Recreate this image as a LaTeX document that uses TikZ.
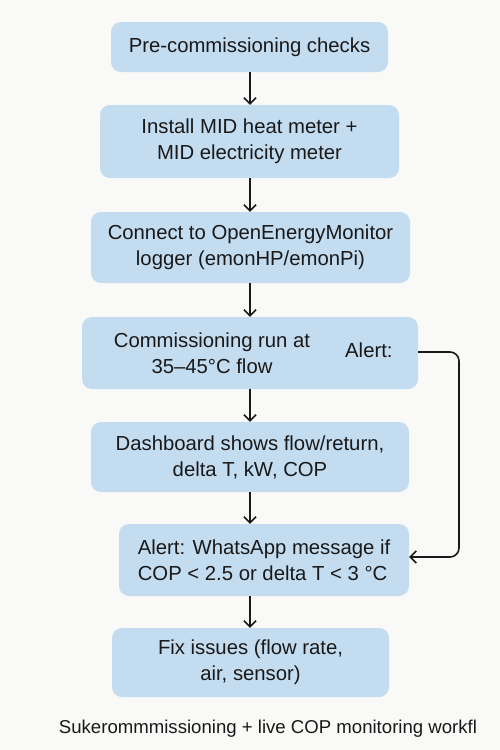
\documentclass[tikz,border=0pt]{standalone}
\usepackage{fontspec}
\setmainfont{Liberation Sans}
\usetikzlibrary{arrows.meta}
\definecolor{boxfill}{RGB}{196,220,240}
\definecolor{bg}{RGB}{249,249,247}
\definecolor{ink}{RGB}{25,25,25}
\begin{document}
\begin{tikzpicture}[x=1pt,y=-1pt,
  stepbox/.style={draw=none,fill=boxfill,rounded corners=10pt,align=center,
    font=\fontsize{20.3}{26}\selectfont,text=ink,inner sep=0pt},
  flow/.style={draw=ink,line width=1.6pt,-{Straight Barb[length=6pt,width=12pt,line width=1.6pt]}}]
\fill[bg] (0,0) rectangle (500,750);
\useasboundingbox (0,0) rectangle (500,750);
\node[stepbox,minimum width=277pt,minimum height=50pt] (b1) at (249.5,47) {Pre-commissioning checks};
\node[stepbox,minimum width=299pt,minimum height=73pt] (b2) at (249.5,141.5) {Install MID heat meter +\\MID electricity meter};
\node[stepbox,minimum width=319pt,minimum height=71pt] (b3) at (250.5,247.5) {Connect to OpenEnergyMonitor\\logger (emonHP/emonPi)};
\node[stepbox,minimum width=336pt,minimum height=72pt] (b4) at (250,353) {};
\node[align=center,font=\fontsize{20.3}{26}\selectfont,text=ink,inner sep=0pt] (b4t) at (212,353) {Commissioning run at\\35–45°C flow};
\node[font=\fontsize{20.3}{26}\selectfont,text=ink,inner sep=0pt,anchor=west] (b4a) at (345,350) {Alert:};
\node[stepbox,minimum width=318pt,minimum height=70pt] (b5) at (250,457) {Dashboard shows flow/return,\\delta T, kW, COP};
\node[stepbox,minimum width=290pt,minimum height=72pt,align=left] (b6) at (264,560) {Alert: WhatsApp message if\\COP < 2.5 or delta T < 3 °C};
\node[stepbox,minimum width=277pt,minimum height=69pt] (b7) at (250.5,662.5) {Fix issues (flow rate,\\air, sensor)};
\node[font=\fontsize{18.6}{20}\selectfont,text=ink,inner sep=0pt] (cap) at (268,729) {Sukerommmissioning + live COP monitoring workfl};
\draw[flow] (b1.south -| 250,0) -- (b2.north -| 250,0);
\draw[flow] (b2.south -| 250,0) -- (b3.north -| 250,0);
\draw[flow] (b3.south -| 250,0) -- (b4.north -| 250,0);
\draw[flow] (b4.south -| 250,0) -- (b5.north -| 250,0);
\draw[flow] (b5.south -| 250,0) -- (b6.north -| 250,0);
\draw[flow] (b6.south -| 250,0) -- (b7.north -| 250,0);
\coordinate (c1) at (459,352);
\coordinate (c2) at (459,557);
\draw[flow,rounded corners=9pt] (b4.east |- c1) -- (c1) -- (c2) -- (b6.east |- c2);
\end{tikzpicture}
\end{document}
